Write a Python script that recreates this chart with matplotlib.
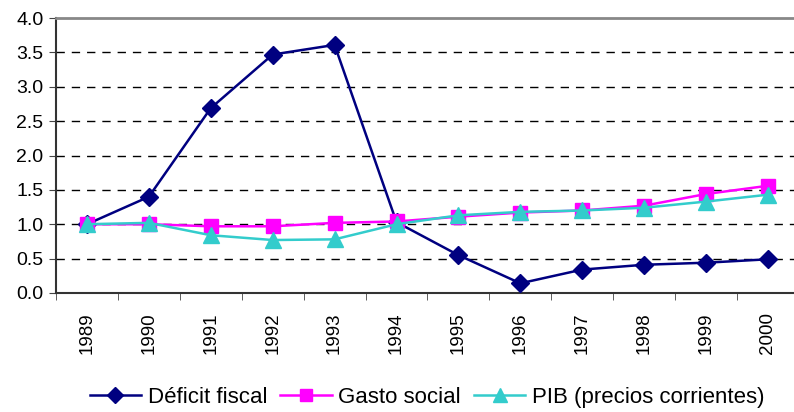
import matplotlib.pyplot as plt
import numpy as np

plt.rcParams['font.family'] = ['Liberation Sans', 'DejaVu Sans']

years = ['1989', '1990', '1991', '1992', '1993', '1994',
         '1995', '1996', '1997', '1998', '1999', '2000']
deficit = [1.00, 1.40, 2.69, 3.47, 3.61, 1.03, 0.55, 0.14, 0.34, 0.41, 0.44, 0.49]
gasto = [1.00, 1.00, 0.97, 0.97, 1.02, 1.04, 1.11, 1.17, 1.20, 1.27, 1.44, 1.56]
pib = [1.00, 1.02, 0.84, 0.77, 0.78, 1.00, 1.13, 1.18, 1.20, 1.24, 1.33, 1.43]

x = np.arange(len(years))

fig = plt.figure(figsize=(7.94, 4.12), dpi=100)
ax = fig.add_axes([0.0705, 0.289, 0.9295, 0.667])

ax.plot(x, deficit, color='#000080', marker='D', markersize=9, lw=1.8,
        label='Déficit fiscal', zorder=3)
ax.plot(x, gasto, color='#FF00FF', marker='s', markersize=10, lw=1.8,
        label='Gasto social', zorder=4)
ax.plot(x, pib, color='#33CCCC', marker='^', markersize=11, lw=1.8,
        label='PIB (precios corrientes)', zorder=5)

ax.set_ylim(0, 4.0)
ax.set_yticks(np.arange(0, 4.01, 0.5))
ax.set_yticklabels([f'{v:.1f}' for v in np.arange(0, 4.01, 0.5)], fontsize=14)
ax.set_xlim(-0.5, 11.42)
ax.set_xticks(x)
ax.set_xticklabels(years, rotation=90, fontsize=13.5)
ax.set_xticks(np.arange(-0.5, 11.5, 1), minor=True)
ax.tick_params(axis='x', which='major', length=0, pad=14)
ax.tick_params(axis='x', which='minor', length=5, direction='out', color='#444444')
ax.tick_params(axis='y', length=5, direction='out', color='#444444', pad=4)

for v in np.arange(0.5, 3.6, 0.5):
    ax.axhline(v, color='black', lw=1, ls=(0, (6, 5)), zorder=1)

ax.spines['right'].set_visible(False)
ax.spines['top'].set_color('#888888')
ax.spines['top'].set_linewidth(2)
ax.spines['left'].set_color('#333333')
ax.spines['bottom'].set_color('#333333')
ax.spines['left'].set_linewidth(1.5)
ax.spines['bottom'].set_linewidth(1.5)

fig.legend(loc='center', bbox_to_anchor=(0.538, 0.035), ncol=3, frameon=False,
           fontsize=16, handlelength=2.3, columnspacing=0.6, handletextpad=0.3,
           markerscale=0.9)

plt.savefig('out.png', dpi=100)
